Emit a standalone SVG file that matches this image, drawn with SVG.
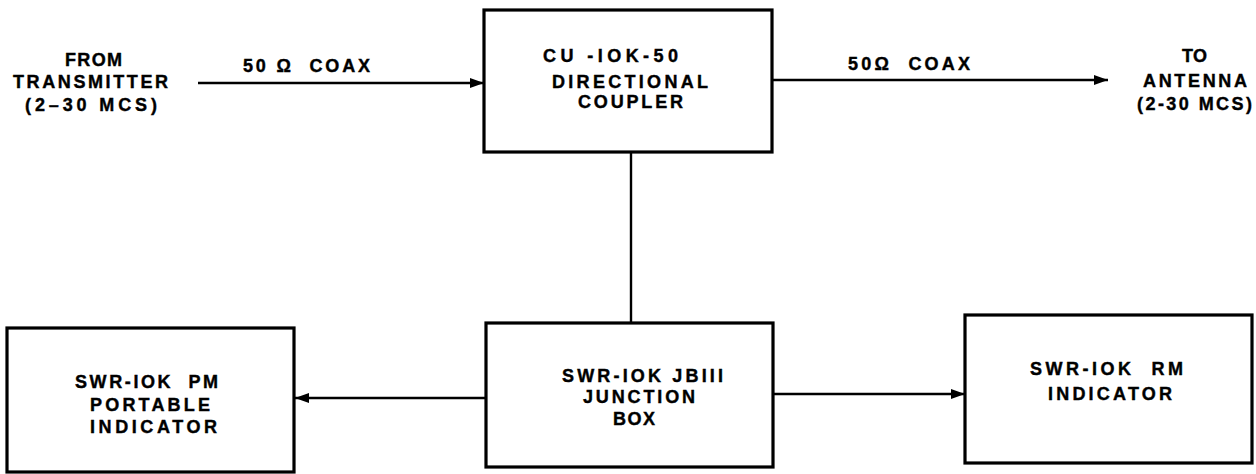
<svg xmlns="http://www.w3.org/2000/svg" width="1256" height="474" viewBox="0 0 1256 474">
<style>
.box{fill:#fff;stroke:#000;stroke-width:3.2}
.wire{fill:none;stroke:#000;stroke-width:2.4}
text{font-family:"Liberation Sans",Arial,sans-serif;font-weight:bold;font-size:18px;fill:#000;stroke:#000;stroke-width:0.4}
</style>
<defs>
<marker id="arr" markerUnits="userSpaceOnUse" markerWidth="16" markerHeight="12" refX="14" refY="6" orient="auto">
<path d="M0,1 L14,6 L0,11 z" fill="#000"/>
</marker>
</defs>
<rect width="1256" height="474" fill="#fff"/>
<g id="connectors">
<line class="wire" x1="198" y1="83" x2="484" y2="83" marker-end="url(#arr)"/>
<line class="wire" x1="772" y1="80" x2="1108" y2="80" marker-end="url(#arr)"/>
<line class="wire" x1="631" y1="152" x2="631" y2="323"/>
<line class="wire" x1="486" y1="398" x2="295" y2="398" marker-end="url(#arr)"/>
<line class="wire" x1="773" y1="394" x2="965" y2="394" marker-end="url(#arr)"/>
<text x="243" y="72" textLength="127" lengthAdjust="spacing" xml:space="preserve">50 Ω  COAX</text>
<text x="848" y="70" textLength="122" lengthAdjust="spacing" xml:space="preserve">50Ω  COAX</text>
</g>
<g id="source">
<text x="65" y="66" textLength="57" lengthAdjust="spacing">FROM</text>
<text x="13" y="88" textLength="155" lengthAdjust="spacing">TRANSMITTER</text>
<text x="25" y="111" textLength="132" lengthAdjust="spacing">(2–30 MCS)</text>
</g>
<g id="coupler">
<rect class="box" x="484" y="10" width="288" height="142"/>
<text x="543" y="62" textLength="135" lengthAdjust="spacing">CU -IOK-50</text>
<text x="552" y="88" textLength="156" lengthAdjust="spacing">DIRECTIONAL</text>
<text x="578" y="108" textLength="105" lengthAdjust="spacing">COUPLER</text>
</g>
<g id="antenna">
<text x="1182" y="62" textLength="25" lengthAdjust="spacing">TO</text>
<text x="1143" y="87" textLength="104" lengthAdjust="spacing">ANTENNA</text>
<text x="1137" y="110" textLength="115" lengthAdjust="spacing">(2-30 MCS)</text>
</g>
<g id="junction">
<rect class="box" x="486" y="323" width="287" height="144"/>
<text x="562" y="382" textLength="161" lengthAdjust="spacing">SWR-IOK JBIII</text>
<text x="583" y="403" textLength="112" lengthAdjust="spacing">JUNCTION</text>
<text x="613" y="425" textLength="42" lengthAdjust="spacing">BOX</text>
</g>
<g id="portable">
<rect class="box" x="7" y="328" width="287" height="144"/>
<text x="75" y="388" textLength="143" lengthAdjust="spacing" xml:space="preserve">SWR-IOK  PM</text>
<text x="90" y="411" textLength="120" lengthAdjust="spacing">PORTABLE</text>
<text x="90" y="433" textLength="127" lengthAdjust="spacing">INDICATOR</text>
</g>
<g id="rm">
<rect class="box" x="965" y="315" width="287" height="148"/>
<text x="1030" y="375" textLength="153" lengthAdjust="spacing" xml:space="preserve">SWR-IOK  RM</text>
<text x="1048" y="400" textLength="124" lengthAdjust="spacing">INDICATOR</text>
</g>
</svg>
